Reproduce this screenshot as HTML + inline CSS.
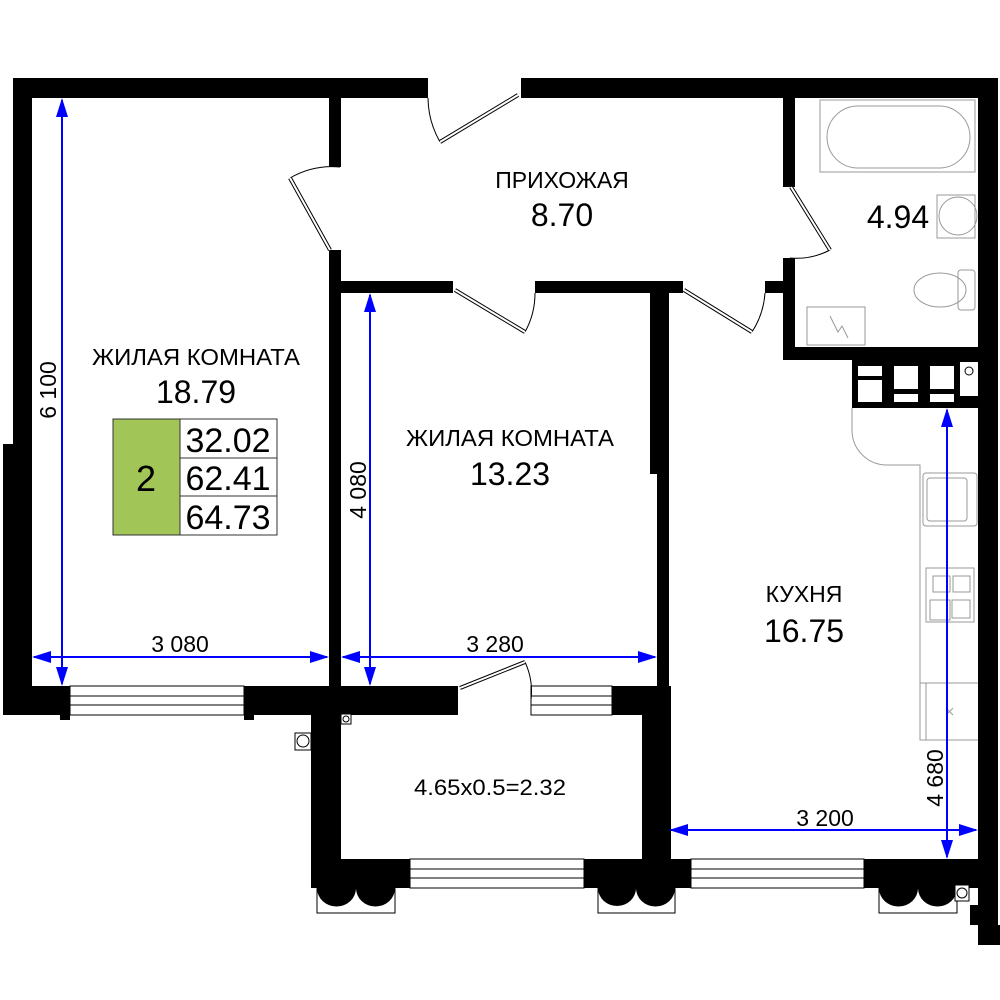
<!DOCTYPE html>
<html><head><meta charset="utf-8"><style>
html,body{margin:0;padding:0;background:#fff}
svg{display:block}
text{font-family:"Liberation Sans",sans-serif;fill:#000}
</style></head><body>
<svg width="1000" height="1000" viewBox="0 0 1000 1000" xmlns="http://www.w3.org/2000/svg">
<rect width="1000" height="1000" fill="#fff"/>
<g fill="#000">
<rect x="13" y="78" width="415" height="20"/>
<rect x="521" y="78" width="477" height="20"/>
<rect x="13" y="78" width="19" height="637"/>
<rect x="3" y="444" width="12" height="271"/>
<rect x="3" y="686" width="67" height="29"/>
<rect x="60" y="686" width="10" height="34"/>
<rect x="244" y="686" width="98" height="29"/>
<rect x="244" y="686" width="10" height="34"/>
<rect x="329" y="98" width="12" height="69"/>
<rect x="329" y="250" width="12" height="436"/>
<rect x="341" y="281" width="112" height="12"/>
<rect x="535" y="281" width="148" height="12"/>
<rect x="765" y="281" width="30" height="12"/>
<rect x="650" y="281" width="19" height="193"/>
<rect x="657" y="474" width="12" height="212"/>
<rect x="783" y="98" width="12" height="89"/>
<rect x="783" y="258" width="12" height="102"/>
<rect x="783" y="347" width="195" height="13"/>
<rect x="852" y="347" width="126" height="61"/>
<rect x="978" y="78" width="20" height="867"/>
<rect x="970" y="905" width="12" height="20"/>
<rect x="990" y="925" width="10" height="20"/>
<rect x="311" y="686" width="147" height="29"/>
<rect x="612" y="686" width="59" height="29"/>
<rect x="311" y="686" width="30" height="202"/>
<rect x="642" y="686" width="29" height="202"/>
<rect x="311" y="859" width="99" height="29"/>
<rect x="584" y="859" width="107" height="29"/>
<rect x="864" y="859" width="116" height="29"/>
</g>
<g fill="#fff">
<rect x="858" y="366" width="24" height="10"/>
<rect x="858" y="380" width="24" height="22"/>
<rect x="894" y="366" width="24" height="23"/>
<rect x="894" y="394" width="24" height="8"/>
<rect x="930" y="366" width="24" height="23"/>
<rect x="930" y="394" width="24" height="8"/>
<rect x="960" y="362" width="18" height="34"/>
</g>
<circle cx="969" cy="371" r="4" fill="none" stroke="#000" stroke-width="1"/>
<g fill="#fff" stroke="#000" stroke-width="1">
<rect x="70" y="686" width="174" height="29"/>
<line x1="70" y1="696" x2="244" y2="696"/><line x1="70" y1="705" x2="244" y2="705"/>
<rect x="531" y="686" width="81" height="29"/>
<line x1="531" y1="696" x2="612" y2="696"/><line x1="531" y1="705" x2="612" y2="705"/>
<rect x="410" y="859" width="174" height="29"/>
<line x1="410" y1="869" x2="584" y2="869"/><line x1="410" y1="878" x2="584" y2="878"/>
<rect x="691" y="859" width="173" height="29"/>
<line x1="691" y1="869" x2="864" y2="869"/><line x1="691" y1="878" x2="864" y2="878"/>
</g>
<g stroke="#000" stroke-width="1" fill="#fff">
<rect x="317" y="888" width="78" height="25"/>
<rect x="598" y="888" width="77" height="25"/>
<rect x="879" y="888" width="78" height="25"/>
</g>
<g fill="#000">
<path d="M317 888 h39 a19 18 0 0 1 -39 0z"/><path d="M356 888 h39 a19 18 0 0 1 -39 0z"/>
<path d="M598 888 h38 a19 18 0 0 1 -38 0z"/><path d="M636 888 h39 a19 18 0 0 1 -39 0z"/>
<path d="M879 888 h39 a19 18 0 0 1 -39 0z"/><path d="M918 888 h39 a19 18 0 0 1 -39 0z"/>
</g>
<g fill="#fff" stroke="#000" stroke-width="1">
<rect x="341" y="714" width="10" height="10"/><circle cx="346" cy="719" r="3"/>
<rect x="295" y="733" width="16" height="17"/><circle cx="303" cy="741" r="6"/>
<rect x="955" y="885" width="14" height="16"/><circle cx="962" cy="893" r="5"/>
</g>
<g fill="none" stroke="#000" stroke-width="1">
<path d="M428 98 A91 91 0 0 0 440 142"/>
<path d="M340 167 A84 84 0 0 0 290 178"/>
<path d="M535 293 A80 80 0 0 1 525 332"/>
<path d="M765 293 A82 82 0 0 1 752 332"/>
<path d="M790 258 A72 72 0 0 0 830 250"/>
<path d="M525 662 A70 70 0 0 1 531 700"/>
</g>
<g stroke="#000" stroke-width="4" fill="none"><line x1="440" y1="142" x2="518" y2="95"/><line x1="290" y1="178" x2="330" y2="250"/><line x1="455" y1="290" x2="525" y2="332"/><line x1="684" y1="290" x2="752" y2="332"/><line x1="791" y1="187" x2="830" y2="250"/><line x1="460" y1="688" x2="525" y2="662"/></g>
<g stroke="#fff" stroke-width="2" fill="none"><line x1="440" y1="142" x2="518" y2="95"/><line x1="290" y1="178" x2="330" y2="250"/><line x1="455" y1="290" x2="525" y2="332"/><line x1="684" y1="290" x2="752" y2="332"/><line x1="791" y1="187" x2="830" y2="250"/><line x1="460" y1="688" x2="525" y2="662"/></g>
<g fill="none" stroke="#999" stroke-width="1">
<rect x="820" y="100" width="155" height="72"/>
<rect x="827" y="106" width="143" height="62" rx="31"/>
<rect x="937" y="195" width="38" height="43"/>
<ellipse cx="958" cy="216" rx="19" ry="19"/>
<ellipse cx="940" cy="290" rx="26" ry="17"/>
<rect x="958" y="270" width="17" height="40" rx="3"/>
<rect x="807" y="307" width="58" height="38"/>
<path d="M830 316 L838 332 L842 326 L848 338"/>
<path d="M852 408 V430 A35 35 0 0 0 885 465 H920 V740 H978"/>
<rect x="923" y="473" width="54" height="53" rx="3"/>
<rect x="927" y="478" width="40" height="43" rx="3"/>
<rect x="926" y="568" width="48" height="54"/>
<rect x="933" y="576" width="17" height="16"/><rect x="953" y="576" width="17" height="16"/>
<rect x="930" y="600" width="20" height="20"/><rect x="952" y="600" width="18" height="18"/>
<line x1="920" y1="683" x2="978" y2="683"/><line x1="926" y1="683" x2="926" y2="740"/>
<path d="M946 708 l7 7 M953 708 l-7 7"/>
</g>
<rect x="113" y="419" width="67" height="116" fill="#a2c557" stroke="#333"/>
<rect x="180" y="419" width="97" height="39" fill="#fff" stroke="#333"/>
<rect x="180" y="458" width="97" height="38" fill="#fff" stroke="#333"/>
<rect x="180" y="496" width="97" height="39" fill="#fff" stroke="#333"/>
<text x="146" y="491" font-size="36" text-anchor="middle">2</text>
<text x="228" y="452" font-size="34" text-anchor="middle">32.02</text>
<text x="228" y="490" font-size="34" text-anchor="middle">62.41</text>
<text x="228" y="529" font-size="34" text-anchor="middle">64.73</text>
<text x="196" y="365" font-size="23" text-anchor="middle" textLength="208" lengthAdjust="spacingAndGlyphs">ЖИЛАЯ КОМНАТА</text>
<text x="196" y="403" font-size="32" text-anchor="middle">18.79</text>
<text x="562" y="188" font-size="23" text-anchor="middle">ПРИХОЖАЯ</text>
<text x="562" y="226" font-size="32" text-anchor="middle">8.70</text>
<text x="898" y="228" font-size="32" text-anchor="middle">4.94</text>
<text x="510" y="446" font-size="23" text-anchor="middle" textLength="208" lengthAdjust="spacingAndGlyphs">ЖИЛАЯ КОМНАТА</text>
<text x="510" y="485" font-size="32" text-anchor="middle">13.23</text>
<text x="804" y="602" font-size="23" text-anchor="middle">КУХНЯ</text>
<text x="804" y="642" font-size="32" text-anchor="middle">16.75</text>
<text x="490" y="795" font-size="22" text-anchor="middle" textLength="152" lengthAdjust="spacingAndGlyphs">4.65x0.5=2.32</text>
<g stroke="#0000ff" stroke-width="2">
<line x1="62" y1="100" x2="62" y2="684"/>
<line x1="34" y1="657" x2="327" y2="657"/>
<line x1="370" y1="295" x2="370" y2="684"/>
<line x1="343" y1="657" x2="655" y2="657"/>
<line x1="671" y1="830" x2="976" y2="830"/>
<line x1="947" y1="410" x2="947" y2="857"/>
</g>
<g fill="#0000ff">
<path d="M62 98 l-6 19 h12z"/><path d="M62 686 l-6 -19 h12z"/>
<path d="M32 657 l19 -6 v12z"/><path d="M329 657 l-19 -6 v12z"/>
<path d="M370 293 l-6 19 h12z"/><path d="M370 686 l-6 -19 h12z"/>
<path d="M341 657 l19 -6 v12z"/><path d="M657 657 l-19 -6 v12z"/>
<path d="M669 830 l19 -6 v12z"/><path d="M978 830 l-19 -6 v12z"/>
<path d="M947 408 l-6 19 h12z"/><path d="M947 859 l-6 -19 h12z"/>
</g>
<text x="180" y="652" font-size="23" text-anchor="middle">3 080</text>
<text x="495" y="652" font-size="23" text-anchor="middle">3 280</text>
<text x="825" y="826" font-size="23" text-anchor="middle">3 200</text>
<text transform="translate(56,390) rotate(-90)" font-size="23" text-anchor="middle">6 100</text>
<text transform="translate(366,490) rotate(-90)" font-size="23" text-anchor="middle">4 080</text>
<text transform="translate(943,778) rotate(-90)" font-size="23" text-anchor="middle">4 680</text>
</svg>
</body></html>
